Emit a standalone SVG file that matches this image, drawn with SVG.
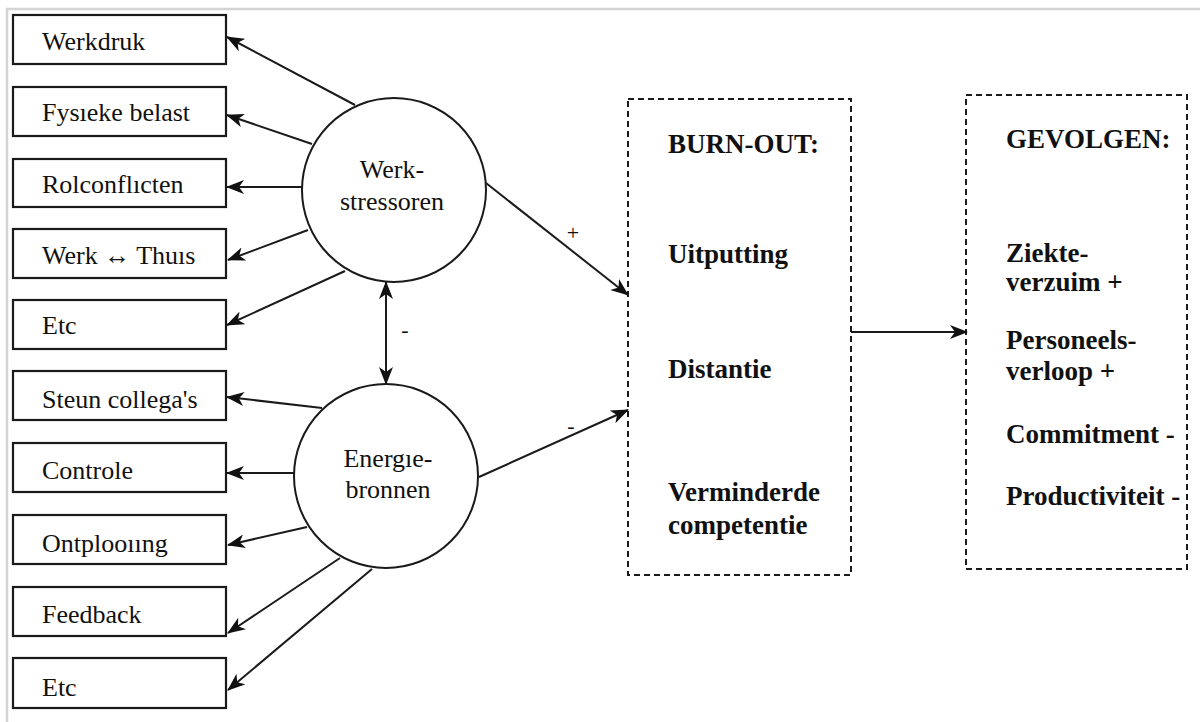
<svg xmlns="http://www.w3.org/2000/svg" width="1200" height="722" viewBox="0 0 1200 722">
<style>
.box{fill:#fff;stroke:#1a1a1a;stroke-width:2.2}
.circ{fill:#fff;stroke:#1a1a1a;stroke-width:2}
.dash{fill:none;stroke:#1a1a1a;stroke-width:2;stroke-dasharray:6 4}
.lbl{font-family:"Liberation Serif","Times New Roman",serif;font-size:26px;fill:#111}
.sign{font-family:"Liberation Serif","Times New Roman",serif;font-size:22px;fill:#111}
.bold{font-family:"Liberation Serif","Times New Roman",serif;font-size:27px;font-weight:bold;fill:#111}
.edge{fill:none;stroke:#1a1a1a;stroke-width:2}
.frame{stroke:#d4d4d4;stroke-width:2.5;fill:none}
</style>
<defs>
<marker id="ah" viewBox="0 0 18 14" refX="17" refY="7" markerWidth="18" markerHeight="14" markerUnits="userSpaceOnUse" orient="auto-start-reverse">
<path d="M0,0 L18,7 L0,14 L5,7 z" fill="#111"/>
</marker>
</defs>
<rect width="1200" height="722" fill="#fff"/>
<path class="frame" d="M7,722 L7,9 L1200,9"/>

<g id="n-werkdruk"><rect class="box" x="13" y="15" width="213" height="49"/><text class="lbl" x="42" y="50">Werkdruk</text></g>
<g id="n-fysieke"><rect class="box" x="13" y="87" width="213" height="49"/><text class="lbl" x="42" y="121">Fysıeke belast</text></g>
<g id="n-rolconflicten"><rect class="box" x="13" y="159" width="213" height="48"/><text class="lbl" x="42" y="193">Rolconflıcten</text></g>
<g id="n-werkthuis"><rect class="box" x="13" y="229" width="213" height="49"/><text class="lbl" x="42" y="264">Werk ↔ Thuıs</text></g>
<g id="n-etc1"><rect class="box" x="13" y="300" width="213" height="49"/><text class="lbl" x="42" y="334">Etc</text></g>
<g id="n-steun"><rect class="box" x="13" y="371" width="213" height="49"/><text class="lbl" x="42" y="408">Steun collega's</text></g>
<g id="n-controle"><rect class="box" x="13" y="443" width="213" height="49"/><text class="lbl" x="42" y="479">Controle</text></g>
<g id="n-ontplooiing"><rect class="box" x="13" y="515" width="213" height="49"/><text class="lbl" x="42" y="552">Ontplooııng</text></g>
<g id="n-feedback"><rect class="box" x="13" y="587" width="213" height="49"/><text class="lbl" x="42" y="623">Feedback</text></g>
<g id="n-etc2"><rect class="box" x="13" y="658" width="213" height="50"/><text class="lbl" x="42" y="696">Etc</text></g>

<g id="n-werkstressoren"><circle class="circ" cx="394" cy="190" r="92"/><text class="lbl" x="392" y="178" text-anchor="middle">Werk-</text><text class="lbl" x="392" y="210" text-anchor="middle">stressoren</text></g>
<g id="n-energiebronnen"><circle class="circ" cx="386" cy="476" r="92"/><text class="lbl" x="388" y="467" text-anchor="middle">Energıe-</text><text class="lbl" x="388" y="498" text-anchor="middle">bronnen</text></g>

<g id="n-burnout"><rect class="dash" x="628" y="99" width="223" height="476"/>
<text class="bold" x="668" y="153">BURN-OUT:</text>
<text class="bold" x="668" y="263">Uitputting</text>
<text class="bold" x="668" y="378">Distantie</text>
<text class="bold" x="668" y="501">Verminderde</text>
<text class="bold" x="668" y="534">competentie</text></g>

<g id="n-gevolgen"><rect class="dash" x="966" y="95" width="221" height="474"/>
<text class="bold" x="1006" y="148">GEVOLGEN:</text>
<text class="bold" x="1006" y="262">Ziekte-</text>
<text class="bold" x="1006" y="291">verzuim +</text>
<text class="bold" x="1006" y="349">Personeels-</text>
<text class="bold" x="1006" y="380">verloop +</text>
<text class="bold" x="1006" y="443">Commitment -</text>
<text class="bold" x="1006" y="505">Productiviteit -</text></g>

<g id="connectors">
<line class="edge" x1="355" y1="105" x2="227" y2="37" marker-end="url(#ah)"/>
<line class="edge" x1="312" y1="144" x2="227" y2="115" marker-end="url(#ah)"/>
<line class="edge" x1="302" y1="187" x2="227" y2="187" marker-end="url(#ah)"/>
<line class="edge" x1="308" y1="230" x2="228" y2="260" marker-end="url(#ah)"/>
<line class="edge" x1="345" y1="271" x2="227" y2="325" marker-end="url(#ah)"/>
<line class="edge" x1="322" y1="408" x2="227" y2="397" marker-end="url(#ah)"/>
<line class="edge" x1="294" y1="473" x2="227" y2="473" marker-end="url(#ah)"/>
<line class="edge" x1="307" y1="527" x2="228" y2="545" marker-end="url(#ah)"/>
<line class="edge" x1="340" y1="558" x2="228" y2="633" marker-end="url(#ah)"/>
<line class="edge" x1="372" y1="569" x2="228" y2="690" marker-end="url(#ah)"/>
<line class="edge" x1="386" y1="282" x2="386" y2="384" marker-start="url(#ah)" marker-end="url(#ah)"/>
<line class="edge" x1="486" y1="183" x2="628" y2="295" marker-end="url(#ah)"/>
<line class="edge" x1="479" y1="477" x2="628" y2="410" marker-end="url(#ah)"/>
<line class="edge" x1="851" y1="332" x2="967" y2="332" marker-end="url(#ah)"/>
<text class="sign" x="573" y="240" text-anchor="middle">+</text>
<text class="sign" x="405" y="337" text-anchor="middle">-</text>
<text class="sign" x="571" y="433" text-anchor="middle">-</text>
</g>
</svg>
